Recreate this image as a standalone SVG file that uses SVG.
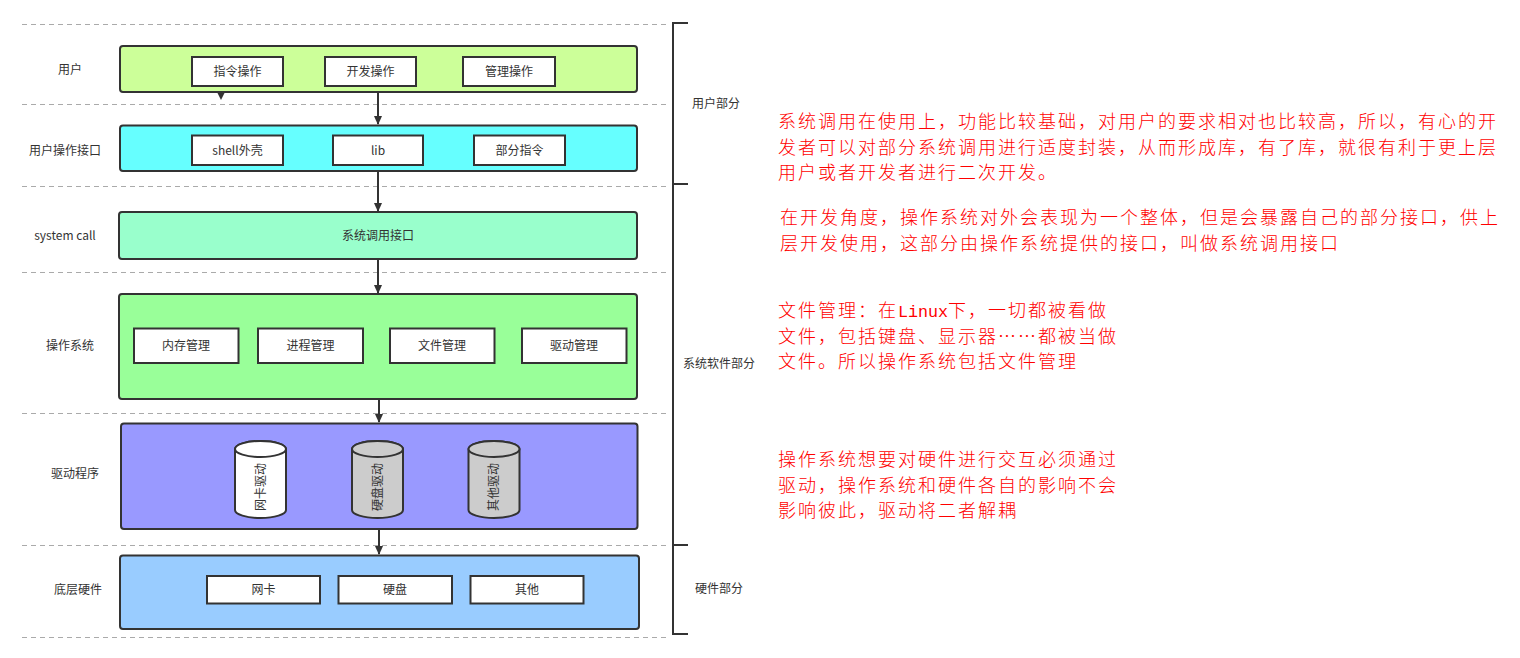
<svg xmlns="http://www.w3.org/2000/svg" width="1520" height="658" viewBox="0 0 1520 658">
<style>
text{font-family:"Noto Sans CJK SC","Liberation Sans",sans-serif;fill:#333;font-size:12px}
.c{text-anchor:middle}
.box{stroke:#333;stroke-width:2}
.sub{fill:#fff;stroke:#333;stroke-width:2}
.dash{stroke:#aaa;stroke-width:1;stroke-dasharray:5 4;fill:none}
.br{stroke:#333;stroke-width:2;fill:none}
.note{fill:#f00;font-size:18px;letter-spacing:2px;font-weight:300;font-family:"Noto Sans CJK SC",sans-serif}
.mono{font-family:"Liberation Mono",monospace;font-size:16.7px;letter-spacing:0;font-weight:normal}
.conn{stroke:#333;stroke-width:2;fill:none}
</style>
<defs>
<marker id="ah" markerWidth="10" markerHeight="10" refX="8" refY="5" orient="auto" markerUnits="userSpaceOnUse">
<path d="M0,1 L9,5 L0,9 Z" fill="#333"/>
</marker>
</defs>
<rect width="1520" height="658" fill="#fff"/>
<g id="dividers">
<line class="dash" x1="22" y1="24.5" x2="668" y2="24.5"/>
<line class="dash" x1="22" y1="104.5" x2="668" y2="104.5"/>
<line class="dash" x1="22" y1="186.5" x2="668" y2="186.5"/>
<line class="dash" x1="22" y1="272.5" x2="668" y2="272.5"/>
<line class="dash" x1="22" y1="413.5" x2="668" y2="413.5"/>
<line class="dash" x1="22" y1="545.5" x2="668" y2="545.5"/>
<line class="dash" x1="22" y1="637.5" x2="668" y2="637.5"/>
</g>
<g id="bracket">
<path class="br" d="M688,23 H673 V634 H688 M673,184 H688 M673,545 H688"/>
<text x="692" y="108">用户部分</text>
<text x="683" y="368">系统软件部分</text>
<text x="695" y="593">硬件部分</text>
</g>
<g id="labels">
<text class="c" x="70" y="74">用户</text>
<text class="c" x="65" y="155">用户操作接口</text>
<text class="c" x="65" y="240" font-family="Liberation Sans,sans-serif">system call</text>
<text class="c" x="70" y="350">操作系统</text>
<text class="c" x="75" y="478">驱动程序</text>
<text class="c" x="78" y="594">底层硬件</text>
</g>
<g id="user">
<rect class="box" x="120" y="46" width="517" height="46" rx="3" fill="#CCFF99"/>
<rect class="sub" x="192" y="57" width="91" height="29"/>
<text class="c" x="237.5" y="76">指令操作</text>
<rect class="sub" x="325" y="57" width="91" height="29"/>
<text class="c" x="370.5" y="76">开发操作</text>
<rect class="sub" x="463" y="57" width="92" height="29"/>
<text class="c" x="509" y="76">管理操作</text>
</g>
<g id="user-interface">
<rect class="box" x="120" y="125.5" width="517" height="45.5" rx="3" fill="#66FFFF"/>
<rect class="sub" x="192" y="135.5" width="91" height="29.5"/>
<text class="c" x="237.5" y="155">shell外壳</text>
<rect class="sub" x="333" y="135.5" width="90" height="29.5"/>
<text class="c" x="378" y="155">lib</text>
<rect class="sub" x="474" y="135.5" width="91" height="29.5"/>
<text class="c" x="519.5" y="155">部分指令</text>
</g>
<g id="syscall">
<rect class="box" x="119" y="212" width="518" height="47" rx="3" fill="#99FFCC"/>
<text class="c" x="378" y="240">系统调用接口</text>
</g>
<g id="os">
<rect class="box" x="119" y="294" width="518" height="105" rx="3" fill="#99FF99"/>
<rect class="sub" x="134" y="328.5" width="104.5" height="34.5"/>
<text class="c" x="186" y="350">内存管理</text>
<rect class="sub" x="258" y="328.5" width="105" height="34.5"/>
<text class="c" x="310.5" y="350">进程管理</text>
<rect class="sub" x="390" y="328.5" width="104.5" height="34.5"/>
<text class="c" x="442" y="350">文件管理</text>
<rect class="sub" x="522" y="328.5" width="104.5" height="34.5"/>
<text class="c" x="574" y="350">驱动管理</text>
</g>
<g id="drivers">
<rect class="box" x="121" y="423.5" width="516.5" height="105.5" rx="3" fill="#9999FF"/>
<g id="nic-driver">
<path class="box" d="M235,449 V510 A25.5,8 0 0 0 286,510 V449 A25.5,8 0 0 0 235,449 Z" fill="#fff"/>
<ellipse class="box" cx="260.5" cy="449" rx="25.5" ry="8" fill="#fff"/>
<text class="c" transform="translate(264.5,487) rotate(-90)">网卡驱动</text>
</g>
<g id="disk-driver">
<path class="box" d="M352,449 V510 A25.5,8 0 0 0 403,510 V449 A25.5,8 0 0 0 352,449 Z" fill="#CCCCCC"/>
<ellipse class="box" cx="377.5" cy="449" rx="25.5" ry="8" fill="#CCCCCC"/>
<text class="c" transform="translate(381.5,487) rotate(-90)">硬盘驱动</text>
</g>
<g id="other-driver">
<path class="box" d="M468.5,449 V510 A25.5,8 0 0 0 519.5,510 V449 A25.5,8 0 0 0 468.5,449 Z" fill="#CCCCCC"/>
<ellipse class="box" cx="494" cy="449" rx="25.5" ry="8" fill="#CCCCCC"/>
<text class="c" transform="translate(498,487) rotate(-90)">其他驱动</text>
</g>
</g>
<g id="hardware">
<rect class="box" x="120" y="555.5" width="519" height="73.5" rx="3" fill="#99CCFF"/>
<rect class="sub" x="207" y="576" width="113" height="27.5"/>
<text class="c" x="263.5" y="594">网卡</text>
<rect class="sub" x="338.5" y="576" width="113.5" height="27.5"/>
<text class="c" x="395" y="594">硬盘</text>
<rect class="sub" x="470.5" y="576" width="113" height="27.5"/>
<text class="c" x="527" y="594">其他</text>
</g>
<g id="connectors">
<path d="M217,92 L225,92 L221,100 Z" fill="#333"/>
<line class="conn" x1="378" y1="92" x2="378" y2="124" marker-end="url(#ah)"/>
<line class="conn" x1="378" y1="171" x2="378" y2="211" marker-end="url(#ah)"/>
<line class="conn" x1="378" y1="259" x2="378" y2="293" marker-end="url(#ah)"/>
<line class="conn" x1="379" y1="399" x2="379" y2="422" marker-end="url(#ah)"/>
<line class="conn" x1="379" y1="529" x2="379" y2="554" marker-end="url(#ah)"/>
</g>
<g id="notes">
<text class="note" x="778" y="128">系统调用在使用上，功能比较基础，对用户的要求相对也比较高，所以，有心的开</text>
<text class="note" x="778" y="154">发者可以对部分系统调用进行适度封装，从而形成库，有了库，就很有利于更上层</text>
<text class="note" x="778" y="179">用户或者开发者进行二次开发。</text>
<text class="note" x="780" y="224">在开发角度，操作系统对外会表现为一个整体，但是会暴露自己的部分接口，供上</text>
<text class="note" x="780" y="250">层开发使用，这部分由操作系统提供的接口，叫做系统调用接口</text>
<text class="note" x="778" y="317">文件管理：在<tspan class="mono">Linux</tspan>下，一切都被看做</text>
<text class="note" x="778" y="343">文件，包括键盘、显示器……都被当做</text>
<text class="note" x="778" y="368">文件。所以操作系统包括文件管理</text>
<text class="note" x="778" y="466">操作系统想要对硬件进行交互必须通过</text>
<text class="note" x="778" y="492">驱动，操作系统和硬件各自的影响不会</text>
<text class="note" x="778" y="517">影响彼此，驱动将二者解耦</text>
</g>
</svg>
